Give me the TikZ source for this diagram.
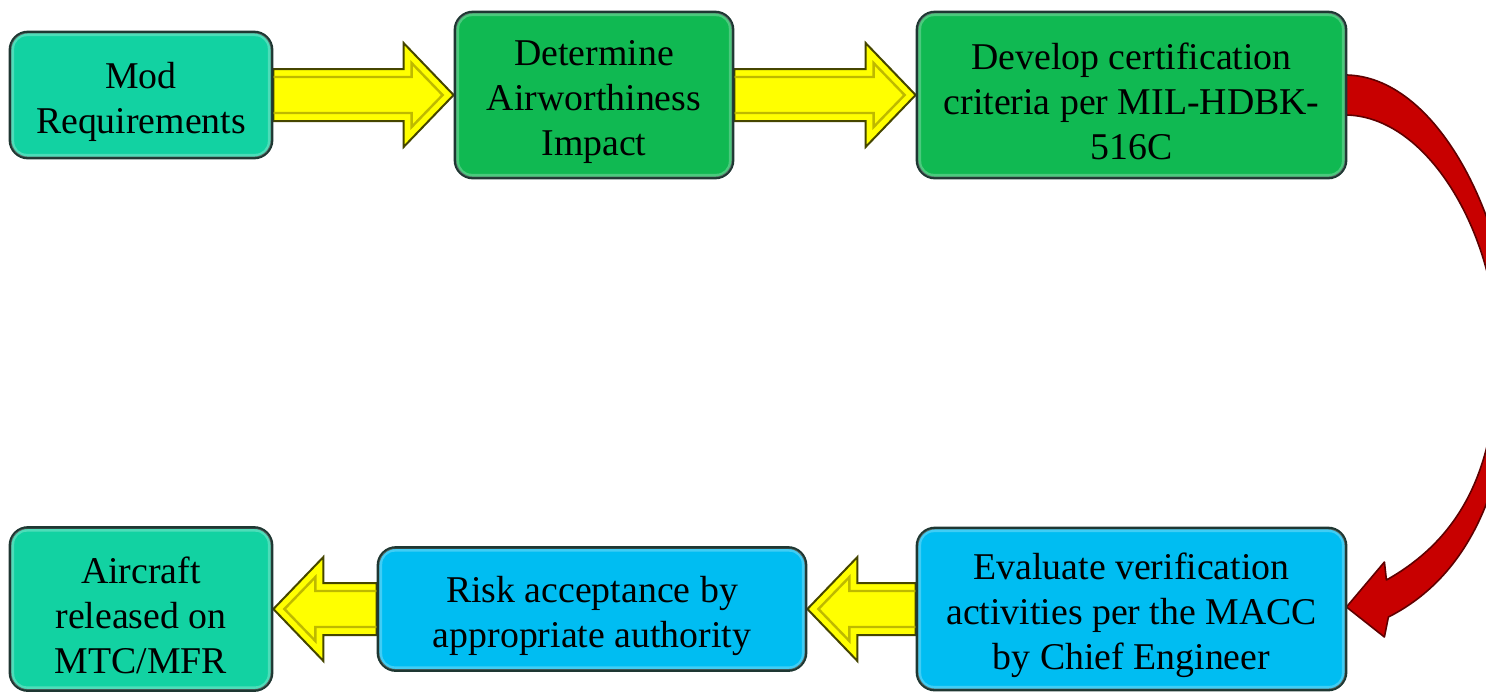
\documentclass[tikz,border=0pt]{standalone}
\usepackage{fontspec}
\setmainfont{Liberation Serif}
\usetikzlibrary{calc,backgrounds}

\definecolor{tealbox}{RGB}{18,210,162}
\definecolor{greenbox}{RGB}{16,185,82}
\definecolor{bluebox}{RGB}{0,189,242}
\definecolor{boxline}{RGB}{30,55,50}
\definecolor{yfill}{RGB}{255,255,0}
\definecolor{yline}{RGB}{70,70,0}
\definecolor{ybevel}{RGB}{190,185,0}
\definecolor{rfill}{RGB}{200,0,0}
\definecolor{rline}{RGB}{95,0,0}

\tikzset{
  box/.style={rectangle, rounded corners=9pt, draw=boxline, line width=1.4pt,
    align=center, inner sep=0pt,
    font=\fontsize{18.9pt}{22.5pt}\selectfont},
  rim/.style={draw=white, draw opacity=0.25, line width=1.6pt, rounded corners=7pt},
  yarrow/.style={fill=yfill, draw=yline, line width=1pt, line join=miter},
  ybev/.style={draw=ybevel, line width=1.2pt},
  rarrow/.style={fill=rfill, draw=rline, line width=0.8pt, line join=round},
}

% strut that lowers the text block a little inside its box
\newcommand\tp{\rule{0pt}{20pt}}

% horizontal block arrow from #1 to #2 (tip at #2), units in px
\newcommand\fatarrow[2]{%
  \coordinate (hb) at ($(#2)!25pt!(#1)$);
  \coordinate (hbi) at ($(hb)!4pt!(#2)$);
  \coordinate (tpi) at ($(#2)!5.5pt!(#1)$);
  \filldraw[yarrow] ($(#1)+(0,-26)$) -- ($(hb)+(0,-26)$) -- ($(hb)+(0,-52)$)
    -- (#2) -- ($(hb)+(0,52)$) -- ($(hb)+(0,26)$) -- ($(#1)+(0,26)$) -- cycle;
  \draw[ybev] ($(#1)+(0,-18)$) -- ($(hbi)+(0,-18)$) -- ($(hbi)+(0,-32)$)
    -- (tpi) -- ($(hbi)+(0,32)$) -- ($(hbi)+(0,18)$) -- ($(#1)+(0,18)$);
}

\newcommand\boxrim[1]{%
  \draw[rim] ($(#1.north west)+(4,4)$) rectangle ($(#1.south east)+(-4,-4)$);
}

\begin{document}
\begin{tikzpicture}[x=0.5pt,y=-0.5pt]
\useasboundingbox (0,0) rectangle (1486,693);

% process boxes
\node[box, fill=tealbox, minimum width=131pt, minimum height=63pt]
  (b1) at (141,95) {\tp Mod\\Requirements};
\node[box, fill=greenbox, minimum width=139pt, minimum height=83pt]
  (b2) at (594,95) {\tp Determine\\Airworthiness\\Impact};
\node[box, fill=greenbox, minimum width=214.5pt, minimum height=83pt]
  (b3) at (1131.5,95) {\tp Develop certification\\criteria per MIL-HDBK-\\516C};
\node[box, fill=bluebox, minimum width=214.5pt, minimum height=81pt]
  (b4) at (1131.5,609) {\tp Evaluate verification\\activities per the MACC\\by Chief Engineer};
\node[box, fill=bluebox, minimum width=214pt, minimum height=61.5pt]
  (b5) at (592,609) {\tp Risk acceptance by\\appropriate authority};
\node[box, fill=tealbox, minimum width=131pt, minimum height=81.5pt]
  (b6) at (141,609) {\tp Aircraft\\released on\\MTC/MFR};

\foreach \b in {b1,b2,b3,b4,b5,b6} {\boxrim{\b}}

\begin{pgfonlayer}{background}
  % yellow block arrows between boxes
  \fatarrow{b1.east}{b2.west}
  \fatarrow{b2.east}{b3.west}
  \fatarrow{b4.west}{b5.east}
  \fatarrow{b5.west}{b6.east}

  % curved red arrow from the top row down to the bottom row,
  % its widest part runs past the right edge
  \begin{scope}
    \clip (0,0) rectangle (1486,693);
    \filldraw[rarrow]
      ($(b3.east)+(-12,-20)$) -- ($(b3.east)+(0,-20)$)
      .. controls ($(b3.east)+(94,-17)$) and ($(b3.east)+(164,135)$) .. ($(b3.east)+(164,255)$)
      .. controls ($(b4.east)+(164,-129)$) and ($(b4.east)+(124,-34)$) .. ($(b4.east)+(41,8)$)
      -- ($(b4.east)+(37,28)$) -- ($(b4.east)+(-1,-2)$) -- ($(b4.east)+(37,-47)$)
      -- ($(b4.east)+(39,-29)$)
      .. controls ($(b4.east)+(119,-74)$) and ($(b4.east)+(150,-149)$) .. ($(b3.east)+(150,255)$)
      .. controls ($(b3.east)+(150,145)$) and ($(b3.east)+(84,23)$) .. ($(b3.east)+(0,20)$)
      -- ($(b3.east)+(-12,20)$) -- cycle;
  \end{scope}
\end{pgfonlayer}
\end{tikzpicture}
\end{document}
